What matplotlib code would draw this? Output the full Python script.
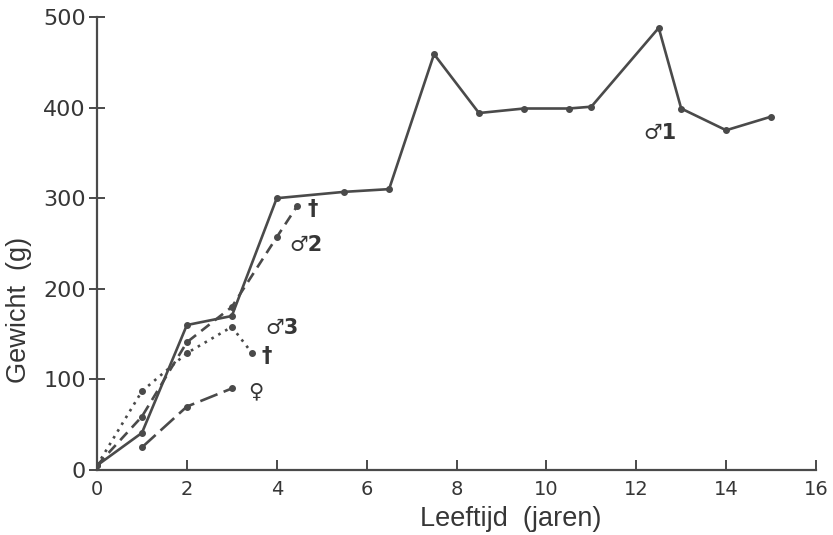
import matplotlib
matplotlib.use("Agg")
import matplotlib.pyplot as plt

# male 1 (solid)
m1_age = [0, 1, 2, 3, 4, 5.5, 6.5, 7.5, 8.5, 9.5, 10.5, 11, 12.5, 13, 14, 15]
m1_wt = [5, 41, 160, 170, 300, 307, 310, 459, 394, 399, 399, 401, 488, 399, 375, 390]

# male 2 (dashed), died
m2_age = [0, 1, 2, 3, 4, 4.45]
m2_wt = [5, 59, 141, 180, 257, 291]

# male 3 (dotted), died
m3_age = [0, 1, 2, 3, 3.45]
m3_wt = [5, 87, 129, 158, 129]

# female (long dash)
f_age = [1, 2, 3]
f_wt = [25, 70, 90]

INK = "#4a4a4a"
TXT = "#363636"
plt.rcParams["font.family"] = ["Liberation Sans", "DejaVu Sans"]

fig = plt.figure(figsize=(8.33, 5.35), dpi=100)
ax = fig.add_axes([97 / 833, 65 / 535, 719 / 833, 453 / 535])

kw = dict(color=INK, marker="o", markersize=4, linewidth=1.9)
ax.plot(m1_age, m1_wt, linestyle="-", **kw)
ax.plot(m2_age, m2_wt, linestyle=(0, (4, 2.5)), **kw)
ax.plot(m3_age, m3_wt, linestyle=(0, (1, 2)), **kw)
ax.plot(f_age, f_wt, linestyle=(0, (7, 2.5)), **kw)

ax.set_xlim(0, 16)
ax.set_ylim(0, 500)
ax.set_xticks(range(0, 17, 2))
ax.set_yticks(range(0, 501, 100))
for s in ("top", "right"):
    ax.spines[s].set_visible(False)
for s in ("left", "bottom"):
    ax.spines[s].set_color(INK)
    ax.spines[s].set_linewidth(1.6)
ax.tick_params(axis="x", direction="in", length=7, width=1.4, color=INK,
               labelsize=14, labelcolor=TXT, pad=7)
ax.tick_params(axis="y", direction="inout", length=12, width=1.4, color=INK,
               labelsize=16, labelcolor=TXT, pad=2)
for t in ax.get_xticklabels() + ax.get_yticklabels():
    t.set_family("DejaVu Sans")

lab = dict(color=TXT, fontsize=15, fontweight="bold", family=["DejaVu Sans"])
ax.text(12.15, 372, "♂1", va="center", ha="left", **lab)
ax.text(4.27, 248, "♂2", va="center", ha="left", **lab)
ax.text(4.68, 288, "†", va="center", ha="left", **lab)
ax.text(3.75, 157, "♂3", va="center", ha="left", **lab)
ax.text(3.66, 126, "†", va="center", ha="left", **lab)
ax.text(3.36, 87, "♀", va="center", ha="left", **lab)

fig.text(511 / 833, 1 - 519 / 535, "Leeftijd  (jaren)", ha="center",
         va="center", fontsize=19.5, color=TXT)
fig.text(19 / 833, 1 - 310 / 535, "Gewicht  (g)", ha="center", va="center",
         rotation=90, fontsize=19.5, color=TXT)

fig.savefig("out.png", dpi=100, facecolor="white")
